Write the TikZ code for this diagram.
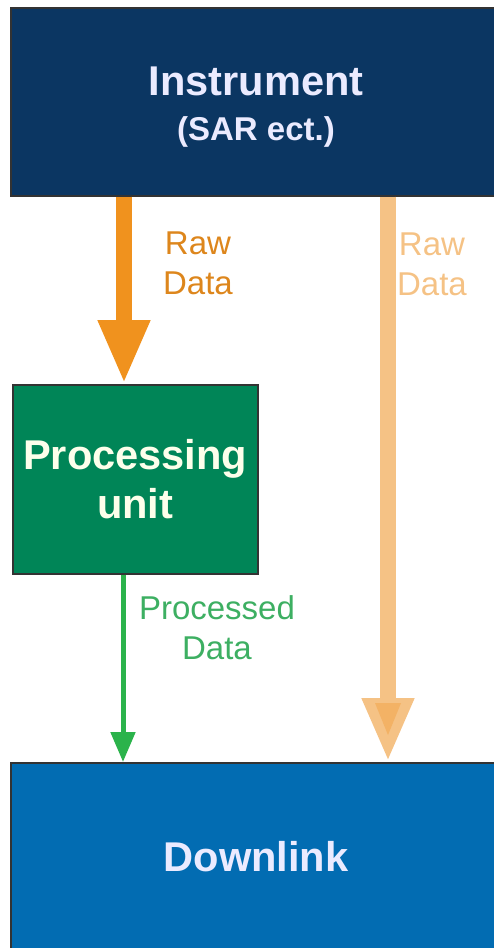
\documentclass[tikz,border=0pt]{standalone}
\usepackage{fontspec}
\setmainfont{Liberation Sans}
\usetikzlibrary{arrows.meta}

\begin{document}
\begin{tikzpicture}[x = 1pt, y = -1pt,
  box/.style = {draw = black!80, line width = 1.5pt, inner sep = 0pt, anchor = north west},
  big/.style = {font = \fontsize{41.6}{49}\selectfont\bfseries, align = center, inner sep = 0pt},
  lab/.style = {font = \fontsize{33}{40}\selectfont, align = center, inner sep = 0pt},
  rawarrow/.style = {draw = rawcol, line width = 16pt, -{Triangle[width = 48pt, length = 64pt]}},
  passarrow/.style = {draw = passcol, line width = 16pt, -{Triangle[width = 48pt, length = 64pt]}},
  procarrow/.style = {draw = proccol, line width = 5pt, -{Triangle[width = 24pt, length = 30pt]}}]
\definecolor{navy}{HTML}{0B3662}
\definecolor{procbox}{HTML}{008557}
\definecolor{downbox}{HTML}{026CB2}
\definecolor{rawcol}{HTML}{F0921E}
\definecolor{passcol}{HTML}{F5C285}
\definecolor{passmid}{HTML}{F3B265}
\definecolor{proccol}{HTML}{2BB34B}
\definecolor{proctext}{HTML}{3DAF62}
\useasboundingbox (0,0) rectangle (493,948);
\clip (-5,-5) rectangle (498,953);
% the three blocks, the wide ones run off the right edge
\node[box, fill = navy, minimum width = 540pt, minimum height = 188pt] (instr) at (10,7) {};
\node[box, fill = procbox, minimum width = 245pt, minimum height = 189pt] (proc) at (12,384) {};
\node[box, fill = downbox, minimum width = 540pt, minimum height = 200pt] (down) at (10,762) {};
\node[big, text = blue!8!white] (instrtxt) at (256,101)
  {\rule{0pt}{40pt}Instrument\\[-4pt]{\fontsize{33}{40}\selectfont (SAR ect.)}};
\node[big, text = green!10!yellow!8!white] (proctxt) at (proc.center) {Processing\\unit};
\node[big, text = blue!8!white] (downtxt) at (256,857) {Downlink};
% data paths
\coordinate (xraw) at (124,0);
\coordinate (xpass) at (388,0);
\coordinate (xproc) at (123,0);
\draw[rawarrow] (instr.south -| xraw) -- (proc.north -| xraw);
\draw[passarrow] (instr.south -| xpass) -- (down.north -| xpass);
\fill[passmid] (375,703) -- (401,703) -- (388,735) -- cycle;
\draw[procarrow] (proc.south -| xproc) -- (down.north -| xproc);
% labels
\node[lab, text = rawcol!92!black] (rawlab) at (198,263.5) {Raw\\Data};
\node[lab, text = passcol] (passlab) at (432,264) {Raw\\Data};
\node[lab, text = proctext] (proclab) at (217,628) {Processed\\Data};
\end{tikzpicture}
\end{document}
